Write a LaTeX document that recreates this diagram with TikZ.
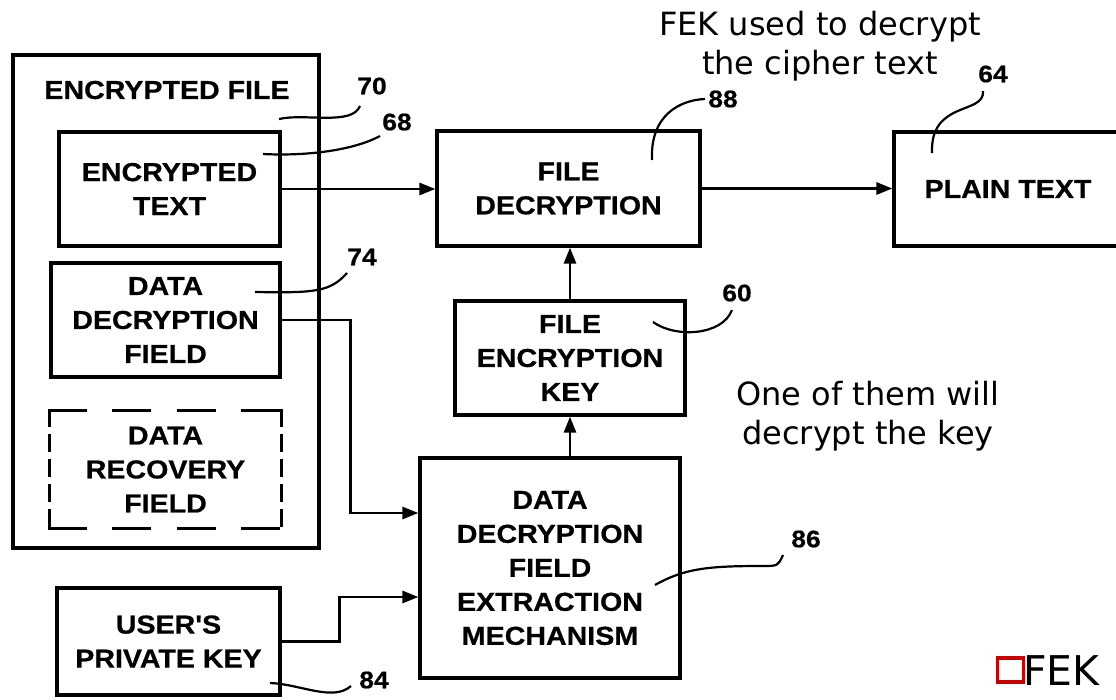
\documentclass[tikz,border=0pt]{standalone}
\usepackage{fontspec}
\usetikzlibrary{arrows.meta,calc}
\newfontfamily\pat{Liberation Sans}[FakeStretch=1.1,FakeBold=0.6]
\newfontfamily\ann{DejaVu Sans}
\definecolor{fekred}{HTML}{CC0000}
\begin{document}
\begin{tikzpicture}[x=1pt,y=-1pt,
  box/.style={draw, line width=3.2pt, inner sep=0pt, align=center, font=\pat\bfseries\fontsize{26pt}{34pt}\selectfont},
  num/.style={inner sep=0pt, font=\pat\bfseries\fontsize{24pt}{28pt}\selectfont},
  lead/.style={line width=2.2pt},
  arr/.style={line width=2.8pt, -{Triangle[length=16pt,width=12pt]}},
  dsh/.style={line width=3.2pt, line cap=rect},
  note/.style={inner sep=0pt, align=center, font=\ann\fontsize{32pt}{39pt}\selectfont}]
\fill[white] (0,0) rectangle (1116,699);
\useasboundingbox (0,0) rectangle (1116,699);

% boxes
\node[box, minimum width=306pt, minimum height=493pt] (ef) at (166,301.5) {};
\node[box, draw=none] (eft) at (167,90) {ENCRYPTED FILE};
\node[box, minimum width=221pt, minimum height=114pt] (et) at (169.5,189) {ENCRYPTED\\TEXT};
\node[box, minimum width=229pt, minimum height=114pt] (ddf) at (165.5,320) {DATA\\DECRYPTION\\FIELD};
\node[box, draw=none, minimum width=229pt, minimum height=115pt] (drf) at (165.5,469.5) {DATA\\RECOVERY\\FIELD};
\draw[dsh, dash pattern=on 35.5pt off 29pt] (drf.north west) -- (drf.north east);
\draw[dsh, dash pattern=on 35.5pt off 29pt] (drf.south west) -- (drf.south east);
\draw[dsh, dash pattern=on 15pt off 10pt] (drf.north west) -- (drf.south west);
\draw[dsh, dash pattern=on 15pt off 10pt] (drf.north east) -- (drf.south east);
\node[box, minimum width=223pt, minimum height=107pt] (upk) at (168.5,641.5) {USER'S\\PRIVATE KEY};
\node[box, minimum width=263pt, minimum height=115pt] (fd) at (568.5,188.5) {FILE\\DECRYPTION};
\node[box, minimum width=228pt, minimum height=114pt] (pt) at (1008,189) {PLAIN TEXT};
\node[box, minimum width=230pt, minimum height=114pt] (fek) at (570,358) {FILE\\ENCRYPTION\\KEY};
\node[box, minimum width=260pt, minimum height=220pt] (ddfem) at (550,568) {DATA\\DECRYPTION\\FIELD\\EXTRACTION\\MECHANISM};

% arrows
\draw[arr] (et.east) -- (et.east -| fd.west);
\draw[arr] (fd.east) -- (fd.east -| pt.west);
\draw[arr] (fek.north) -- (fek.north |- fd.south);
\draw[arr] (ddfem.north -| fek.north) -- (fek.south);
\draw[arr] (ddf.east) -- ++(69,0) |- ([yshift=55pt]ddfem.west);
\draw[arr] (upk.east) -- ++(58,0) |- ([yshift=-29pt]ddfem.west);

% reference numbers
\node[num] (n70) at (372,86) {70};
\node[num] (n68) at (397,122) {68};
\node[num] (n74) at (362,257) {74};
\node[num] (n84) at (374,680) {84};
\node[num] (n88) at (723,99) {88};
\node[num] (n64) at (993,74) {64};
\node[num] (n60) at (737,293) {60};
\node[num] (n86) at (806,539) {86};

% leader lines
\coordinate (l70s) at (279,119); \coordinate (l70e) at (360,106);
\draw[lead] (l70s) .. controls (305,113) and (352,126) .. (l70e);
\coordinate (l68s) at (263,154); \coordinate (l68e) at (380,136);
\draw[lead] (l68s) .. controls (300,156) and (350,152) .. (l68e);
\coordinate (l74s) at (255,292); \coordinate (l74e) at (347,273);
\draw[lead] (l74s) .. controls (315,293) and (330,292) .. (l74e);
\coordinate (l84s) at (270,683); \coordinate (l84e) at (351,686);
\draw[lead] (l84s) .. controls (300,684) and (333,702) .. (l84e);
\coordinate (l88s) at (652,160); \coordinate (l88e) at (705,99);
\draw[lead] (l88s) .. controls (650,115) and (680,100) .. (l88e);
\coordinate (l64s) at (932,153); \coordinate (l64e) at (983,91);
\draw[lead] (l64s) .. controls (930,100) and (985,115) .. (l64e);
\coordinate (l60s) at (653,322); \coordinate (l60e) at (732,310);
\draw[lead] (l60s) .. controls (675,338) and (722,336) .. (l60e);
\coordinate (l86s) at (655,585); \coordinate (l86e) at (783,555);
\draw[lead] (l86s) .. controls (685,568) and (710,566) .. (762,566) .. controls (778,566) .. (l86e);

% annotations
\node[note] (note1) at (820,46) {FEK used to decrypt\\the cipher text};
\node[note] (note2) at (868,416) {One of them will\\decrypt the key};
\node[draw=fekred, line width=3.4pt, minimum width=26pt, minimum height=24pt, inner sep=0pt] (sq) at (1010.5,670) {};
\node[inner sep=0pt, anchor=base west, font=\ann\fontsize{41pt}{48pt}\selectfont] (fekl) at (1023,685) {FEK};
\end{tikzpicture}
\end{document}
